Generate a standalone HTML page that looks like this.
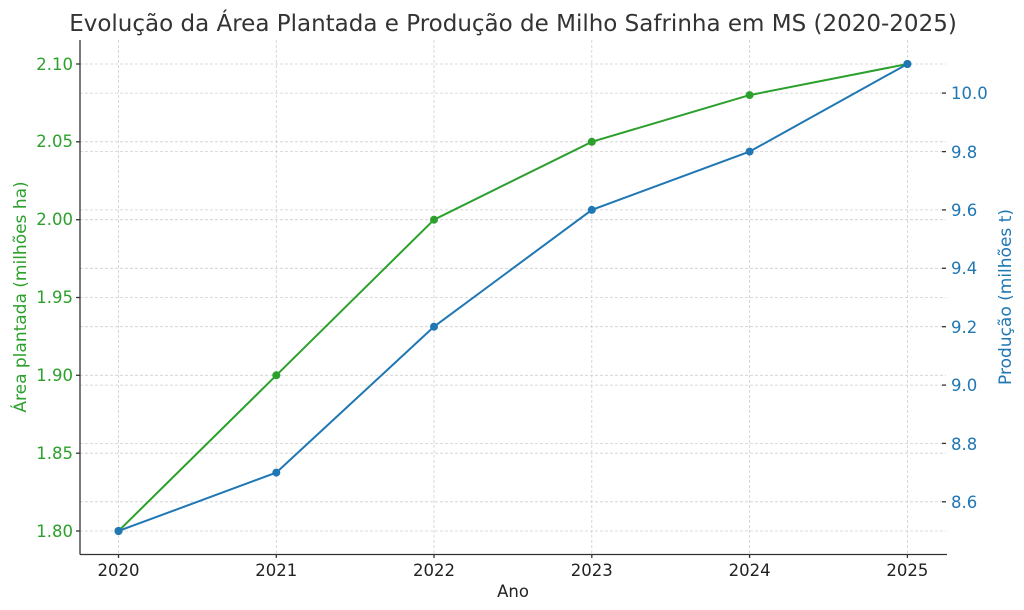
<!DOCTYPE html>
<html><head><meta charset="utf-8"><style>body{margin:0;background:#fff}svg{display:block}</style></head><body>
<svg width="1024" height="610" xmlns="http://www.w3.org/2000/svg" font-family="DejaVu Sans, Liberation Sans, sans-serif">
<rect width="1024" height="610" fill="#fff"/>
<g stroke="#cfcfcf" stroke-width="0.8" stroke-dasharray="3,2">
<line x1="118.5" y1="40" x2="118.5" y2="554"/><line x1="276.3" y1="40" x2="276.3" y2="554"/><line x1="434" y1="40" x2="434" y2="554"/><line x1="591.8" y1="40" x2="591.8" y2="554"/><line x1="749.6" y1="40" x2="749.6" y2="554"/><line x1="907.4" y1="40" x2="907.4" y2="554"/>
<line x1="80" y1="531" x2="946" y2="531"/><line x1="80" y1="453.2" x2="946" y2="453.2"/><line x1="80" y1="375.3" x2="946" y2="375.3"/><line x1="80" y1="297.5" x2="946" y2="297.5"/><line x1="80" y1="219.7" x2="946" y2="219.7"/><line x1="80" y1="141.8" x2="946" y2="141.8"/><line x1="80" y1="64" x2="946" y2="64"/>
<line x1="80" y1="501.8" x2="946" y2="501.8"/><line x1="80" y1="443.4" x2="946" y2="443.4"/><line x1="80" y1="385.1" x2="946" y2="385.1"/><line x1="80" y1="326.7" x2="946" y2="326.7"/><line x1="80" y1="268.3" x2="946" y2="268.3"/><line x1="80" y1="209.9" x2="946" y2="209.9"/><line x1="80" y1="151.6" x2="946" y2="151.6"/><line x1="80" y1="93.1" x2="946" y2="93.1"/>
</g>
<g stroke="#333" stroke-width="1.3">
<line x1="80" y1="40" x2="80" y2="554.5"/><line x1="80" y1="554.5" x2="947" y2="554.5"/>
<line x1="76" y1="531" x2="80" y2="531"/><line x1="76" y1="453.2" x2="80" y2="453.2"/><line x1="76" y1="375.3" x2="80" y2="375.3"/><line x1="76" y1="297.5" x2="80" y2="297.5"/><line x1="76" y1="219.7" x2="80" y2="219.7"/><line x1="76" y1="141.8" x2="80" y2="141.8"/><line x1="76" y1="64" x2="80" y2="64"/>
<line x1="942" y1="501.8" x2="946" y2="501.8"/><line x1="942" y1="443.4" x2="946" y2="443.4"/><line x1="942" y1="385.1" x2="946" y2="385.1"/><line x1="942" y1="326.7" x2="946" y2="326.7"/><line x1="942" y1="268.3" x2="946" y2="268.3"/><line x1="942" y1="209.9" x2="946" y2="209.9"/><line x1="942" y1="151.6" x2="946" y2="151.6"/><line x1="942" y1="93.1" x2="946" y2="93.1"/>
<line x1="118.5" y1="554" x2="118.5" y2="558"/><line x1="276.3" y1="554" x2="276.3" y2="558"/><line x1="434" y1="554" x2="434" y2="558"/><line x1="591.8" y1="554" x2="591.8" y2="558"/><line x1="749.6" y1="554" x2="749.6" y2="558"/><line x1="907.4" y1="554" x2="907.4" y2="558"/>
</g>
<polyline fill="none" stroke="#2ca02c" stroke-width="2" points="118.5,531 276.3,375.3 434,219.7 591.8,141.8 749.6,95.1 907.4,64"/>
<g fill="#2ca02c"><circle cx="118.5" cy="531" r="4"/><circle cx="276.3" cy="375.3" r="4"/><circle cx="434" cy="219.7" r="4"/><circle cx="591.8" cy="141.8" r="4"/><circle cx="749.6" cy="95.1" r="4"/><circle cx="907.4" cy="64" r="4"/></g>
<polyline fill="none" stroke="#1f77b4" stroke-width="2" points="118.5,531 276.3,472.6 434,326.7 591.8,209.9 749.6,151.6 907.4,64"/>
<g fill="#1f77b4"><circle cx="118.5" cy="531" r="4"/><circle cx="276.3" cy="472.6" r="4"/><circle cx="434" cy="326.7" r="4"/><circle cx="591.8" cy="209.9" r="4"/><circle cx="749.6" cy="151.6" r="4"/><circle cx="907.4" cy="64" r="4"/></g>
<g fill="#2ca02c" font-size="16.5" text-anchor="end">
<text x="73" y="537">1.80</text><text x="73" y="459">1.85</text><text x="73" y="381">1.90</text><text x="73" y="303">1.95</text><text x="73" y="225">2.00</text><text x="73" y="147">2.05</text><text x="73" y="70">2.10</text>
</g>
<g fill="#1f77b4" font-size="16.5">
<text x="951" y="508">8.6</text><text x="951" y="450">8.8</text><text x="951" y="391">9.0</text><text x="951" y="333">9.2</text><text x="951" y="274">9.4</text><text x="951" y="216">9.6</text><text x="951" y="158">9.8</text><text x="951" y="99">10.0</text>
</g>
<g fill="#222" font-size="16.5" text-anchor="middle">
<text x="118.5" y="576">2020</text><text x="276.3" y="576">2021</text><text x="434" y="576">2022</text><text x="591.8" y="576">2023</text><text x="749.6" y="576">2024</text><text x="907.4" y="576">2025</text>
<text x="513" y="597">Ano</text>
</g>
<text x="513" y="31" font-size="23" fill="#333" text-anchor="middle">Evolução da Área Plantada e Produção de Milho Safrinha em MS (2020-2025)</text>
<text transform="translate(26,297) rotate(-90)" font-size="17" fill="#2ca02c" text-anchor="middle">Área plantada (milhões ha)</text>
<text transform="translate(1011,297) rotate(-90)" font-size="17" fill="#1f77b4" text-anchor="middle">Produção (milhões t)</text>
</svg>
</body></html>
